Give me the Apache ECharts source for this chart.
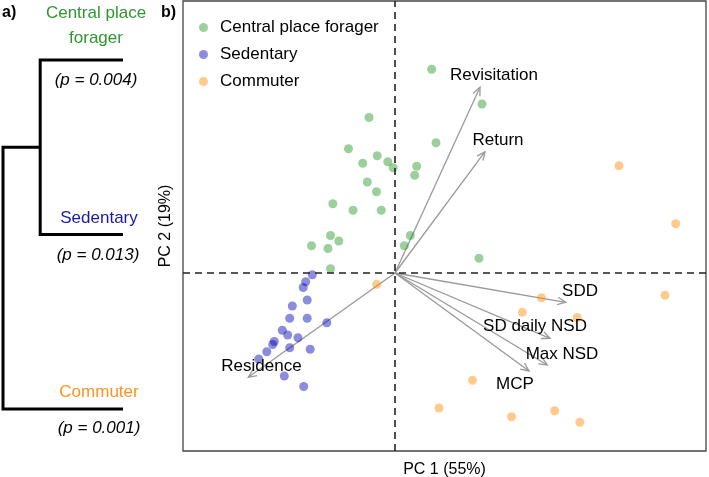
<!DOCTYPE html>
<html>
<head>
<meta charset="utf-8">
<script src="https://cdn.jsdelivr.net/npm/echarts@6/dist/echarts.min.js"></script>
<style>
html,body{margin:0;padding:0;background:#fff;}
#c{width:709px;height:477px;}
</style>
</head>
<body>
<div id="c"></div>
<script>
// ---------- DATA ----------
const groupNames = ['Central place forager', 'Sedentary', 'Commuter'];

const centralPts = [
  [0.734, 4.074], [1.74, 3.38], [-0.52, 3.11], [0.82, 2.606], [-0.93, 2.486],
  [-0.356, 2.344], [-0.646, 2.194], [-0.144, 2.224], [-0.036, 2.106], [0.434, 2.136],
  [0.394, 1.956], [-0.554, 1.82], [-0.37, 1.626], [-1.244, 1.384], [-0.84, 1.254],
  [-0.274, 1.254], [-1.29, 0.75], [-1.124, 0.64], [-1.67, 0.546], [-1.34, 0.49],
  [-1.29, 0.086], [0.306, 0.75], [0.186, 0.546], [1.68, 0.294]
];
const sedentaryPts = [
  [-1.654, -0.034], [-1.786, -0.174], [-1.836, -0.29], [-2.054, -0.66], [-1.756, -0.54],
  [-2.106, -0.904], [-1.756, -0.906], [-1.364, -0.994], [-2.254, -1.144], [-2.146, -1.24],
  [-1.94, -1.294], [-2.414, -1.37], [-2.446, -1.43], [-2.564, -1.576], [-2.106, -1.496],
  [-1.696, -1.526], [-2.726, -1.72], [-2.214, -2.06], [-1.826, -2.27]
];
const commuterPts = [
  [-0.366, -0.226], [4.48, 2.146], [5.614, 0.984], [5.40, -0.446], [2.93, -0.494],
  [2.546, -0.784], [3.644, -0.89], [1.55, -2.146], [0.88, -2.70], [2.33, -2.876],
  [3.194, -2.754], [3.696, -2.984]
];

const varNames = ['Revisitation', 'Return', 'SDD', 'SD daily NSD', 'Max NSD', 'MCP', 'Residence'];
const loadX    = [1.70, 1.80, 3.414, 3.10, 3.046, 2.68, -2.934];
const loadY    = [3.714, 2.426, -0.586, -1.306, -1.84, -1.96, -2.086];
const varLabelX = [1.98, 2.06, 3.70, 2.80, 3.34, 2.40, -2.67];
const varLabelY = [3.96, 2.66, -0.36, -1.06, -1.62, -2.22, -1.874];

const xAxisTitle = 'PC 1 (55%)';
const yAxisTitle = 'PC 2 (19%)';

// dendrogram
const leafNames = ['Central place\nforager', 'Sedentary', 'Commuter'];
const leafP = ['(p = 0.004)', '(p = 0.013)', '(p = 0.001)'];
const leafPos = [1, 2, 3];
const subMergeHeight = 0.69;   // Central + Sedentary
const rootHeight = 1.0;        // (Central+Sedentary) + Commuter

// ---------- STYLE ----------
const FONT = '"Liberation Sans", Arial, sans-serif';
const ptColors = ['rgba(34,150,34,0.45)', 'rgba(10,10,180,0.47)', 'rgba(255,140,0,0.45)'];
const leafColors = ['#2e982e', '#1a1aa0', '#ff9320'];
const arrowColor = '#999999';

const chart = echarts.init(document.getElementById('c'), null, {renderer: 'canvas'});

const dendroLines = [
  {coords: [[0, leafPos[0]], [subMergeHeight, leafPos[0]], [subMergeHeight, leafPos[1]], [0, leafPos[1]]]},
  {coords: [[subMergeHeight, (leafPos[0] + leafPos[1]) / 2], [rootHeight, (leafPos[0] + leafPos[1]) / 2],
            [rootHeight, leafPos[2]], [0, leafPos[2]]]}
];

const nameOffsets = [[-27, -34], [-24, -16], [-24, -17]];
const pOffsets = [[-27, 20], [-25, 21], [-24, 19]];

const leafNameData = leafPos.map((p, i) => ({
  value: [0, p],
  label: {formatter: leafNames[i], color: leafColors[i], offset: nameOffsets[i]}
}));
const leafPData = leafPos.map((p, i) => ({
  value: [0, p],
  label: {formatter: leafP[i], offset: pOffsets[i]}
}));

const arrowData = loadX.map((x, i) => [x, loadY[i]]);
const varLabelData = varNames.map((n, i) => [varLabelX[i], varLabelY[i], n]);

const option = {
  animation: false,
  textStyle: {fontFamily: FONT},
  grid: [
    {left: 183, top: 1, width: 523, height: 450, show: true, borderColor: '#444', borderWidth: 1.3,
     backgroundColor: 'transparent', containLabel: false, outerBoundsMode: 'none'},
    {left: 0, top: 0, width: 180, height: 477, show: false, containLabel: false, outerBoundsMode: 'none'}
  ],
  xAxis: [
    {gridIndex: 0, type: 'value', min: -4.24, max: 6.22,
     axisLine: {show: false}, axisTick: {show: false}, axisLabel: {show: false}, splitLine: {show: false},
     name: xAxisTitle, nameLocation: 'middle', nameGap: 11,
     nameTextStyle: {fontSize: 16, color: '#000', fontFamily: FONT}},
    {gridIndex: 1, type: 'value', min: -0.475, max: 1.025, inverse: true, show: false}
  ],
  yAxis: [
    {gridIndex: 0, type: 'value', min: -3.56, max: 5.44,
     axisLine: {show: false}, axisTick: {show: false}, axisLabel: {show: false}, splitLine: {show: false},
     name: yAxisTitle, nameLocation: 'middle', nameGap: 9,
     nameTextStyle: {fontSize: 16, color: '#000', fontFamily: FONT}},
    {gridIndex: 1, type: 'value', min: 0.656, max: 3.39, inverse: true, show: false}
  ],
  legend: {
    orient: 'vertical', left: 194, top: 14,
    itemWidth: 9, itemHeight: 9, itemGap: 10,
    icon: 'circle',
    textStyle: {fontSize: 17, color: '#000', fontFamily: FONT, padding: [0, 0, 0, 7]},
    data: groupNames
  },
  graphic: [
    {type: 'text', left: 2, top: 5, style: {text: 'a)', font: 'bold 16px ' + FONT, fill: '#000'}},
    {type: 'text', left: 161, top: 5, style: {text: 'b)', font: 'bold 16px ' + FONT, fill: '#000'}}
  ],
  series: [
    {
      type: 'line', xAxisIndex: 0, yAxisIndex: 0, data: [], silent: true,
      markLine: {
        silent: true, symbol: 'none', label: {show: false},
        lineStyle: {color: '#222', type: [7, 5], width: 1.6},
        data: [{xAxis: 0}, {yAxis: 0}]
      }
    },
    {name: groupNames[0], type: 'scatter', data: centralPts, symbolSize: 9, itemStyle: {color: ptColors[0], opacity: 1}},
    {name: groupNames[1], type: 'scatter', data: sedentaryPts, symbolSize: 9, itemStyle: {color: ptColors[1], opacity: 1}},
    {name: groupNames[2], type: 'scatter', data: commuterPts, symbolSize: 9, itemStyle: {color: ptColors[2], opacity: 1}},
    {
      type: 'custom', xAxisIndex: 0, yAxisIndex: 0, data: arrowData, silent: true,
      renderItem: function (params, api) {
        const tip = api.coord([api.value(0), api.value(1)]);
        const o = api.coord([0, 0]);
        const ang = Math.atan2(tip[1] - o[1], tip[0] - o[0]);
        const L = 9, a = Math.PI / 7.5;
        const h1 = [tip[0] - L * Math.cos(ang - a), tip[1] - L * Math.sin(ang - a)];
        const h2 = [tip[0] - L * Math.cos(ang + a), tip[1] - L * Math.sin(ang + a)];
        return {
          type: 'group',
          children: [
            {type: 'line', shape: {x1: o[0], y1: o[1], x2: tip[0], y2: tip[1]},
             style: {stroke: arrowColor, lineWidth: 1.3}},
            {type: 'polyline', shape: {points: [h1, tip, h2]},
             style: {stroke: arrowColor, lineWidth: 1.3, fill: null}}
          ]
        };
      }
    },
    {
      type: 'scatter', xAxisIndex: 0, yAxisIndex: 0, data: varLabelData, symbolSize: 0, silent: true,
      itemStyle: {opacity: 1},
      label: {show: true, position: 'inside', formatter: p => p.data[2], fontSize: 17, color: '#000', fontFamily: FONT},
      labelLayout: {hideOverlap: false}
    },
    {
      type: 'lines', coordinateSystem: 'cartesian2d', xAxisIndex: 1, yAxisIndex: 1, polyline: true, silent: true,
      data: dendroLines,
      lineStyle: {color: '#000', width: 3, opacity: 1, cap: 'butt', join: 'miter'}
    },
    {
      type: 'scatter', xAxisIndex: 1, yAxisIndex: 1, data: leafNameData, symbolSize: 0, silent: true,
      itemStyle: {opacity: 1},
      label: {show: true, position: 'inside', fontSize: 17, lineHeight: 25, fontFamily: FONT, align: 'center'}
    },
    {
      type: 'scatter', xAxisIndex: 1, yAxisIndex: 1, data: leafPData, symbolSize: 0, silent: true,
      itemStyle: {opacity: 1},
      label: {show: true, position: 'inside', fontSize: 17, fontStyle: 'italic', color: '#000', fontFamily: FONT}
    }
  ]
};
chart.setOption(option);
</script>
</body>
</html>
